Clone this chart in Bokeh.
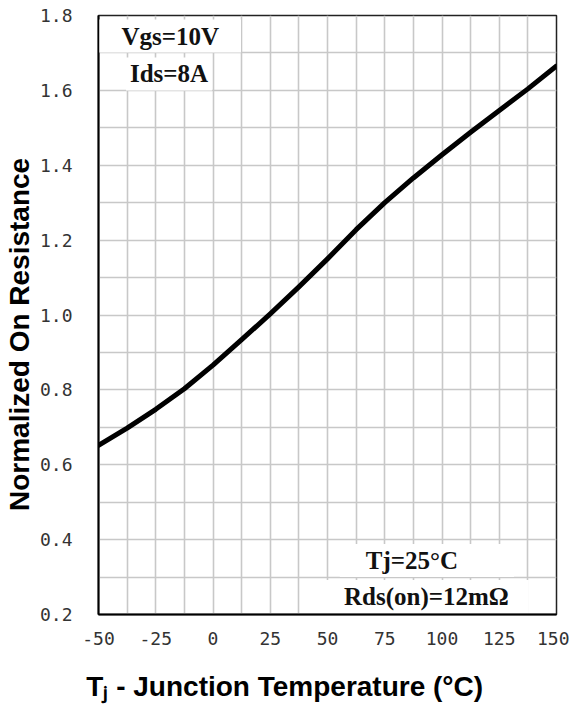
from bokeh.plotting import figure
from bokeh.models import FixedTicker, SingleIntervalTicker, Label
from bokeh.embed import file_html
from bokeh.resources import INLINE

# ---- data ----
temps = [-50, -37.5, -25, -12.5, 0, 12.5, 25, 37.5, 50, 62.5, 75, 87.5,
         100, 112.5, 125, 137.5, 150]
r_norm = [0.652, 0.698, 0.748, 0.803, 0.866, 0.934, 1.003, 1.075, 1.150,
          1.228, 1.300, 1.366, 1.428, 1.488, 1.546, 1.604, 1.665]

x_ticks = [-50, -25, 0, 25, 50, 75, 100, 125, 150]
x_tick_labels = ["-50", "-25", "0", "25", "50", "75", "100", "125", "150"]
y_ticks = [0.2, 0.4, 0.6, 0.8, 1.0, 1.2, 1.4, 1.6, 1.8]
y_tick_labels = ["0.2", "0.4", "0.6", "0.8", "1.0", "1.2", "1.4", "1.6", "1.8"]

cond_texts = ["Vgs=10V", "Ids=8A"]
ref_texts = ["Tj=25°C", "Rds(on)=12mΩ"]

x_label = "T\u2c7c - Junction Temperature (°C)" + "\u00a0" * 11
y_label = "Normalized On Resistance" + "\u00a0" * 5

p = figure(width=569, height=707, x_range=(-50, 150), y_range=(0.2, 1.8),
           output_backend="svg", toolbar_location=None,
           min_border_left=97, min_border_top=15, min_border_right=13,
           min_border_bottom=93)
p.background_fill_color = "white"
p.border_fill_color = "white"
p.outline_line_color = "#222222"
p.outline_line_width = 1.5

# grid every half tick
p.xgrid.ticker = SingleIntervalTicker(interval=12.5)
p.ygrid.ticker = SingleIntervalTicker(interval=0.1)
for g in (p.xgrid, p.ygrid):
    g.grid_line_color = "#c8c8c8"
    g.grid_line_width = 1.6

# axes
p.xaxis.ticker = FixedTicker(ticks=x_ticks)
p.yaxis.ticker = FixedTicker(ticks=y_ticks)
p.xaxis.major_label_overrides = dict(zip(x_ticks, x_tick_labels))
p.yaxis.major_label_overrides = dict(zip(y_ticks, y_tick_labels))
for ax in (p.xaxis, p.yaxis):
    ax.axis_line_color = "black"
    ax.axis_line_width = 2
    ax.major_tick_line_color = None
    ax.minor_tick_line_color = None
    ax.major_label_text_font = "DejaVu Sans Mono"
    ax.major_label_text_font_size = "18px"
    ax.major_label_text_color = "#333333"
    ax.axis_label_text_font = "Liberation Sans"
    ax.axis_label_text_font_style = "bold"
    ax.axis_label_text_font_size = "28px"
    ax.axis_label_text_color = "black"
p.xaxis.major_label_standoff = 11
p.yaxis.major_label_standoff = 20
p.xaxis.axis_label = x_label
p.yaxis.axis_label = y_label
p.xaxis.axis_label_standoff = 23
p.yaxis.axis_label_standoff = 2

# curve
p.line(temps, r_norm, line_width=5, line_color="black",
       line_join="round", line_cap="round")

# condition text boxes
box_style = dict(text_font="Liberation Serif", text_font_style="bold",
                 text_font_size="25px", text_color="#111111",
                 text_align="center", text_baseline="middle",
                 background_fill_color="white", border_line_color=None)

p.add_layout(Label(x=-18.7, y=1.745, text=cond_texts[0],
                   padding=dict(left=22, right=22, top=3, bottom=3), **box_style))
p.add_layout(Label(x=-19.2, y=1.644, text=cond_texts[1],
                   padding=dict(left=4, right=4, top=3, bottom=3), **box_style))
p.add_layout(Label(x=93.4, y=0.344, text=ref_texts[0],
                   padding=dict(left=26, right=56, top=3, bottom=3), **box_style))
p.add_layout(Label(x=93.4, y=0.248, text=ref_texts[1],
                   padding=dict(left=19, right=20, top=3, bottom=3), **box_style))

open("out.html", "w").write(file_html(p, INLINE))
